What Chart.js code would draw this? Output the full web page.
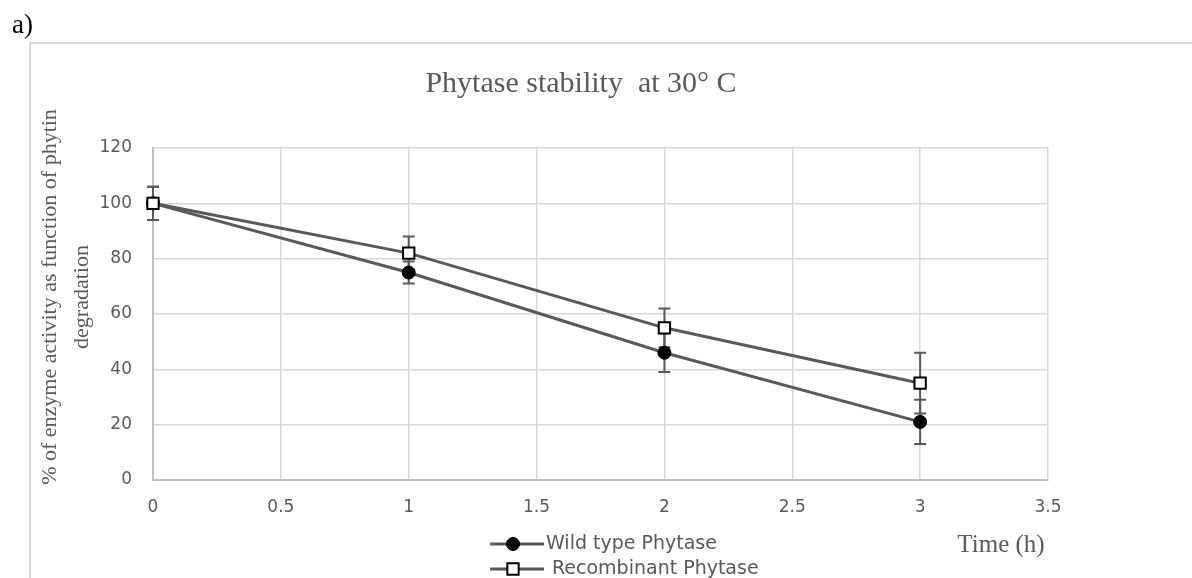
<!DOCTYPE html>
<html>
<head>
<meta charset="utf-8">
<script src="https://cdn.jsdelivr.net/npm/chart.js@4.4.1/dist/chart.umd.min.js"></script>
<style>
  html, body { margin: 0; padding: 0; background: #ffffff; }
  #wrap { position: relative; width: 1192px; height: 578px; }
</style>
</head>
<body>
<div id="wrap"><canvas id="c" width="1192" height="578"></canvas></div>
<script>
// ---- data ----
const timeHours = [0, 1, 2, 3];
const wildType = [100, 75, 46, 21];
const wildTypeErr = [6, 4, 7, 8];
const recombinant = [100, 82, 55, 35];
const recombinantErr = [6, 6, 7, 11];
const xTickValues = [0, 0.5, 1, 1.5, 2, 2.5, 3, 3.5];
const xTickLabels = ['0', '0.5', '1', '1.5', '2', '2.5', '3', '3.5'];
const yTickValues = [0, 20, 40, 60, 80, 100, 120];
const yTickLabels = ['0', '20', '40', '60', '80', '100', '120'];
const seriesNames = ['Wild type Phytase', 'Recombinant Phytase'];
const chartTitle = 'Phytase stability  at 30\u00B0 C';
const yTitleLines = ['% of enzyme activity as function of phytin', 'degradation'];
const xTitle = 'Time (h)';
const panelLabel = 'a)';

const LINE = '#595959';
const GRID = '#d9d9d9';
const TEXT = '#595959';

function toPoints(xs, ys, errs) {
  return xs.map((x, i) => ({ x: x, y: ys[i], err: errs[i] }));
}

const errorBarPlugin = {
  id: 'errorBars',
  beforeDatasetsDraw(chart) {
    const ctx = chart.ctx;
    const xs = chart.scales.x, ys = chart.scales.y;
    ctx.save();
    ctx.strokeStyle = LINE;
    ctx.lineWidth = 2;
    chart.data.datasets.forEach(ds => {
      ds.data.forEach(p => {
        const px = xs.getPixelForValue(p.x);
        const top = ys.getPixelForValue(p.y + p.err);
        const bot = ys.getPixelForValue(p.y - p.err);
        const cap = 6;
        ctx.beginPath();
        ctx.moveTo(px, top); ctx.lineTo(px, bot);
        ctx.moveTo(px - cap, top); ctx.lineTo(px + cap, top);
        ctx.moveTo(px - cap, bot); ctx.lineTo(px + cap, bot);
        ctx.stroke();
      });
    });
    ctx.restore();
  }
};

const decorPlugin = {
  id: 'decor',
  beforeDraw(chart) {
    const ctx = chart.ctx;
    ctx.save();
    ctx.strokeStyle = GRID;
    ctx.lineWidth = 2;
    ctx.beginPath();
    ctx.moveTo(30, 578);
    ctx.lineTo(30, 43);
    ctx.lineTo(1192, 43);
    ctx.stroke();
    ctx.restore();
  },
  afterDraw(chart) {
    const ctx = chart.ctx;
    ctx.save();
    // panel label
    ctx.fillStyle = '#000000';
    ctx.font = '27px "Liberation Serif"';
    ctx.textAlign = 'left';
    ctx.textBaseline = 'alphabetic';
    ctx.fillText(panelLabel, 12, 33);
    // chart title
    ctx.fillStyle = TEXT;
    ctx.font = '30px "Liberation Serif"';
    ctx.textAlign = 'center';
    ctx.textBaseline = 'middle';
    ctx.fillText(chartTitle, 581, 84);
    // y title (rotated, two lines)
    ctx.font = '22px "Liberation Serif"';
    [[50, yTitleLines[0]], [82, yTitleLines[1]]].forEach(([x, t]) => {
      ctx.save();
      ctx.translate(x, 297);
      ctx.rotate(-Math.PI / 2);
      ctx.fillText(t, 0, 0);
      ctx.restore();
    });
    // x title
    ctx.font = '25px "Liberation Serif"';
    ctx.fillText(xTitle, 1001, 545);
    // legend
    const rows = [544, 569];
    chart.data.datasets.forEach((ds, i) => {
      const y = rows[i];
      ctx.strokeStyle = ds.borderColor;
      ctx.lineWidth = 3;
      ctx.beginPath();
      ctx.moveTo(490, y); ctx.lineTo(544, y);
      ctx.stroke();
      ctx.fillStyle = ds.pointBackgroundColor;
      ctx.strokeStyle = ds.pointBorderColor;
      ctx.lineWidth = ds.pointBorderWidth;
      Chart.helpers.drawPoint(ctx, {
        pointStyle: ds.pointStyle,
        radius: ds.pointRadius,
        borderWidth: ds.pointBorderWidth
      }, 513, y);
      ctx.fillStyle = TEXT;
      ctx.font = '19px "DejaVu Sans"';
      ctx.textAlign = 'left';
      ctx.textBaseline = 'middle';
      ctx.fillText(seriesNames[i], i === 0 ? 546 : 552, y);
    });
    ctx.restore();
  }
};

new Chart(document.getElementById('c'), {
  type: 'line',
  data: {
    datasets: [
      {
        label: seriesNames[0],
        data: toPoints(timeHours, wildType, wildTypeErr),
        borderColor: LINE,
        borderWidth: 3,
        pointStyle: 'circle',
        pointRadius: 6.5,
        pointBackgroundColor: '#000000',
        pointBorderColor: '#000000',
        pointBorderWidth: 1,
        clip: false,
        tension: 0,
        order: 1
      },
      {
        label: seriesNames[1],
        data: toPoints(timeHours, recombinant, recombinantErr),
        borderColor: LINE,
        borderWidth: 3,
        pointStyle: 'rect',
        pointRadius: 8,
        pointBackgroundColor: '#ffffff',
        pointBorderColor: '#000000',
        pointBorderWidth: 2,
        clip: false,
        tension: 0,
        order: 0
      }
    ]
  },
  options: {
    responsive: false,
    animation: false,
    events: [],
    layout: { padding: { left: 30, right: 144, top: 148, bottom: 0 } },
    plugins: {
      legend: { display: false },
      title: { display: false },
      tooltip: { enabled: false }
    },
    scales: {
      x: {
        type: 'linear',
        min: 0, max: 3.5,
        afterBuildTicks(scale) { scale.ticks = xTickValues.map(v => ({ value: v })); },
        afterFit(scale) { scale.height = 98; },
        grid: { color: GRID, lineWidth: 1.5, drawTicks: false },
        border: { color: '#bfbfbf', width: 2 },
        ticks: {
          color: TEXT, font: { family: 'DejaVu Sans', size: 17 }, padding: 17,
          callback: (v) => xTickLabels[xTickValues.indexOf(v)]
        }
      },
      y: {
        type: 'linear',
        min: 0, max: 120,
        afterBuildTicks(scale) { scale.ticks = yTickValues.map(v => ({ value: v })); },
        afterFit(scale) { scale.width = 123; },
        grid: { color: GRID, lineWidth: 1.5, drawTicks: false },
        border: { color: '#bfbfbf', width: 2 },
        ticks: {
          color: TEXT, font: { family: 'DejaVu Sans', size: 17 }, padding: 21,
          callback: (v) => yTickLabels[yTickValues.indexOf(v)]
        }
      }
    }
  },
  plugins: [errorBarPlugin, decorPlugin]
});
</script>
</body>
</html>
